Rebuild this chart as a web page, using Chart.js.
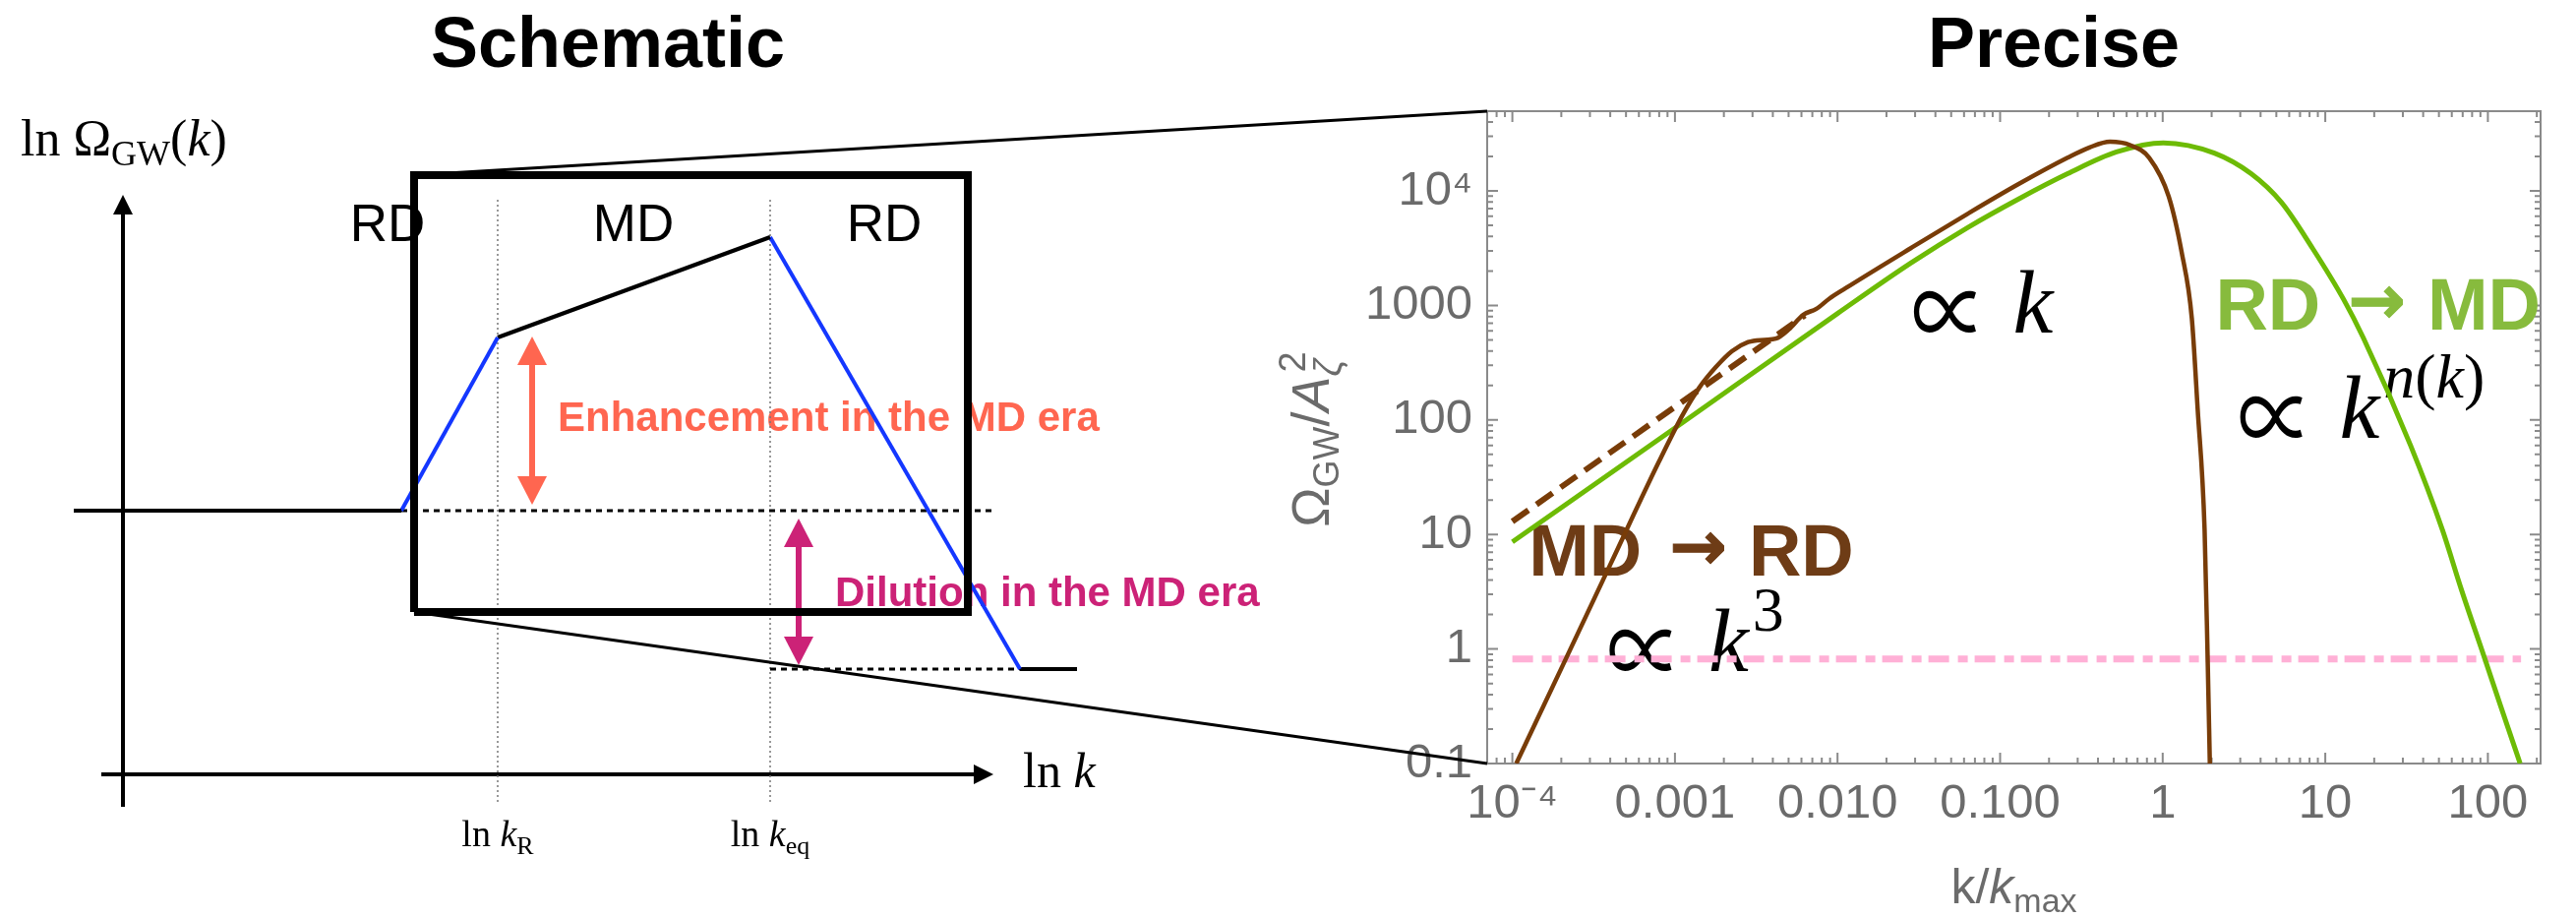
<!DOCTYPE html>
<html>
<head>
<meta charset="utf-8">
<script src="https://cdn.jsdelivr.net/npm/chart.js@4.4.0/dist/chart.umd.min.js"></script>
<style>
  body { margin: 0; background: #fff; width: 2619px; height: 933px; position: relative; overflow: hidden; }
  canvas { position: absolute; top: 0; }
  #left { left: 0; }
  #right { left: 1250px; }
  #links { left: 0; pointer-events: none; }
</style>
</head>
<body>
<canvas id="left" width="1300" height="933"></canvas>
<canvas id="right" width="1369" height="933"></canvas>
<canvas id="links" width="2619" height="933"></canvas>
<script>
// ---- schematic (arbitrary units: ln k to the right, ln Omega up) ----
const schemK  = [-0.5, 2.83, 3.81, 6.58, 9.12, 9.70];
const schemOm = [2.68, 2.68, 4.44, 5.46, 1.07, 1.07];
const lnkR = 3.81, lnkEq = 6.58;
const boxK  = [2.96, 8.59];
const boxOm = [1.65, 6.09];

// ---- precise spectrum ----
const kGreen  = [1e-4, 0.001, 0.01, 0.0282, 0.0631, 0.130, 0.260, 0.520, 1.01, 2.08, 3.50, 5.37, 8.34, 13.0, 17.1, 33.4, 52.5, 68.7, 95.5, 120, 158];
const omGreen = [8.61, 85.1, 851, 2344, 4786, 8511, 14130, 21880, 26300, 21380, 14130, 7943, 3162, 1122, 525, 60.3, 11.0, 3.31, 0.832, 0.316, 0.1];

const kBrown  = [1.057e-4, 2.0e-4, 3.98e-4, 7.94e-4, 1.12e-3, 1.41e-3, 1.78e-3, 2.24e-3, 2.82e-3, 3.55e-3, 4.17e-3, 5.01e-3, 6.17e-3, 7.41e-3, 8.91e-3, 0.0112, 0.0282, 0.0631, 0.130, 0.260, 0.355, 0.474, 0.631, 0.826, 1.09, 1.31, 1.51, 1.64, 1.81, 1.89, 1.95];
const omBrown = [0.1, 0.676, 5.37, 42.7, 112, 191, 288, 398, 479, 501, 513, 617, 832, 933, 1148, 1413, 3162, 6310, 11480, 19500, 23990, 26920, 25120, 19500, 8913, 2884, 776, 126, 11.0, 0.832, 0.1];

const kBrownDash  = [1e-4, 6.3e-3];
const omBrownDash = [13.0, 820];

const kFloor  = [1e-4, 160];
const omFloor = [0.82, 0.82];

const xTickVals = [1e-4, 1e-3, 1e-2, 1e-1, 1, 10, 100];
const xTickText = ['10\u207B\u2074', '0.001', '0.010', '0.100', '1', '10', '100'];
const yTickVals = [0.1, 1, 10, 100, 1000, 1e4];
const yTickText = ['0.1', '1', '10', '100', '1000', '10\u2074'];

const SANS = '"Liberation Sans", Arial, sans-serif';
const SERIF = '"Liberation Serif", "DejaVu Serif", serif';

function pts(xs, ys) { return xs.map((x, i) => ({x: x, y: ys[i]})); }

// draw pieces of text one after another on one baseline
function runs(ctx, x, y, list) {
  for (const r of list) {
    ctx.font = r.font;
    const dx = r.dx || 0;
    ctx.fillText(r.t, x + dx, y + (r.dy || 0));
    if (r.stroke) { ctx.lineWidth = r.stroke; ctx.strokeStyle = ctx.fillStyle; ctx.strokeText(r.t, x + dx, y + (r.dy || 0)); }
    if (!r.stay) x += dx + ctx.measureText(r.t).width;
  }
  return x;
}
function runsWidth(ctx, list) {
  let w = 0;
  for (const r of list) { ctx.font = r.font; if (!r.stay) w += (r.dx || 0) + ctx.measureText(r.t).width; }
  return w;
}
function head(ctx, x, y, dir, len, half) {
  ctx.beginPath();
  if (dir === 'up')    { ctx.moveTo(x, y); ctx.lineTo(x - half, y + len); ctx.lineTo(x + half, y + len); }
  if (dir === 'down')  { ctx.moveTo(x, y); ctx.lineTo(x - half, y - len); ctx.lineTo(x + half, y - len); }
  if (dir === 'right') { ctx.moveTo(x, y); ctx.lineTo(x - len, y - half); ctx.lineTo(x - len, y + half); }
  ctx.closePath();
  ctx.fill();
}
function seg(data, color, width, dash) {
  return { data: data, borderColor: color, borderWidth: width, borderDash: dash || [],
           pointRadius: 0, tension: 0, borderCapStyle: 'butt', borderJoinStyle: 'miter', clip: false };
}
// proportional-to sign fitted into a w x h box whose bottom-left is (x, y)
function propSign(ctx, x, y, w, h) {
  ctx.save();
  ctx.font = '100px "Noto Sans CJK JP", "DejaVu Serif", serif';
  const m = ctx.measureText('\u221D');
  const gw = m.actualBoundingBoxLeft + m.actualBoundingBoxRight;
  const gh = m.actualBoundingBoxAscent + m.actualBoundingBoxDescent;
  ctx.translate(x, y);
  ctx.scale(w / gw, h / gh);
  ctx.fillText('\u221D', m.actualBoundingBoxLeft, -m.actualBoundingBoxDescent);
  ctx.restore();
}

//Schematic decorations
const schemDeco = {
  id: 'schemDeco',
  beforeDatasetsDraw(chart) {
    const {ctx, scales: {x, y}} = chart;
    const X = v => x.getPixelForValue(v), Y = v => y.getPixelForValue(v);
    ctx.save();
    ctx.fillStyle = '#000';
    ctx.textBaseline = 'alphabetic';
    ctx.textAlign = 'center';
    ctx.font = 'bold 72px ' + SANS;
    ctx.fillText('Schematic', 618, 68);

    ctx.font = '53px ' + SANS;
    const eras = ['RD', 'MD', 'RD'], eraK = [2.69, 5.19, 7.74];
    eras.forEach((t, i) => ctx.fillText(t, X(eraK[i]), Y(5.42)));

    ctx.textAlign = 'left';
    // tick labels under the k axis
    [[lnkR, 'R'], [lnkEq, 'eq']].forEach(([v, sub]) => {
      const list = [{t: 'ln ', font: '38px ' + SERIF}, {t: 'k', font: 'italic 38px ' + SERIF},
                    {t: sub, font: '26px ' + SERIF, dy: 8}];
      runs(ctx, X(v) - runsWidth(ctx, list) / 2, Y(-0.73), list);
    });
    runs(ctx, X(9.15), Y(-0.13), [{t: 'ln ', font: '50px ' + SERIF}, {t: 'k', font: 'italic 50px ' + SERIF}]);
    runs(ctx, X(-1.04), Y(6.29), [{t: 'ln \u03A9', font: '52px ' + SERIF}, {t: 'GW', font: '36px ' + SERIF, dy: 10},
                                 {t: '(', font: '52px ' + SERIF}, {t: 'k', font: 'italic 52px ' + SERIF},
                                 {t: ')', font: '52px ' + SERIF}]);

    // enhancement / dilution
    ctx.font = 'bold 42px ' + SANS;
    ctx.fillStyle = '#ff6650';
    ctx.fillText('Enhancement in the MD era', X(4.42), Y(3.49));
    ctx.fillStyle = '#cc2277';
    ctx.fillText('Dilution in the MD era', X(7.24), Y(1.71));

    const arrows = [[4.16, schemOm[0] + 0.06, schemOm[2] + 0.01, '#ff6650'],
                    [6.87, schemOm[4] + 0.04, schemOm[0] - 0.08, '#cc2277']];
    arrows.forEach(([k, lo, hi, col]) => {
      ctx.strokeStyle = col; ctx.fillStyle = col; ctx.lineWidth = 6;
      ctx.beginPath(); ctx.moveTo(X(k), Y(lo) - 20); ctx.lineTo(X(k), Y(hi) + 20); ctx.stroke();
      head(ctx, X(k), Y(hi), 'up', 29, 15);
      head(ctx, X(k), Y(lo), 'down', 29, 15);
    });
    ctx.restore();
  },
  afterDatasetsDraw(chart) {
    const {ctx, scales: {x, y}} = chart;
    ctx.save();
    ctx.fillStyle = '#000';
    head(ctx, x.getPixelForValue(0), y.getPixelForValue(5.89), 'up', 20, 10);
    head(ctx, x.getPixelForValue(8.85), y.getPixelForValue(0), 'right', 20, 10);
    ctx.restore();
  }
};

const schemSegs = [];
const segColors = ['#000', '#1437ff', '#000', '#1437ff', '#000'];
for (let i = 0; i < schemK.length - 1; i++) {
  schemSegs.push(seg(pts([schemK[i], schemK[i + 1]], [schemOm[i], schemOm[i + 1]]), segColors[i], 4));
}

const left = new Chart(document.getElementById('left'), {
  type: 'line',
  data: {
    datasets: [
      seg(pts([boxK[0], boxK[0], boxK[1], boxK[1], boxK[0]], [boxOm[0], boxOm[1], boxOm[1], boxOm[0], boxOm[0]]), '#000', 8),
      ...schemSegs,
      seg(pts([schemK[1], 8.83], [schemOm[1], schemOm[1]]), '#000', 3, [6, 5]),
      seg(pts([lnkEq, schemK[4]], [schemOm[4], schemOm[4]]), '#000', 3, [6, 5]),
      seg(pts([lnkR, lnkR], [-0.28, 5.85]), '#777', 1.5, [2, 3]),
      seg(pts([lnkEq, lnkEq], [-0.28, 5.85]), '#777', 1.5, [2, 3]),
      seg(pts([-0.22, 8.75], [0, 0]), '#000', 4),
      seg(pts([0, 0], [-0.33, 5.8]), '#000', 4)
    ]
  },
  options: {
    responsive: false, animation: false, events: [],
    layout: { padding: 0 },
    plugins: { legend: { display: false }, tooltip: { enabled: false } },
    scales: {
      x: { type: 'linear', display: false, min: -1.25, max: 11.75 },
      y: { type: 'linear', display: false, min: -1.46, max: 7.87 }
    }
  },
  plugins: [schemDeco]
});

// frame, ticks on all sides, titles and annotations of the precise panel
const precDeco = {
  id: 'precDeco',
  beforeDatasetsDraw(chart) {
    const {ctx, chartArea: a, scales: {x, y}} = chart;
    const X = v => x.getPixelForValue(v), Y = v => y.getPixelForValue(v);
    ctx.save();
    ctx.strokeStyle = '#8a8a8a';
    ctx.lineWidth = 2;
    ctx.strokeRect(a.left, a.top, a.right - a.left, a.bottom - a.top);
    ctx.beginPath();
    for (let e = -5; e <= 4; e++) {
      for (let m = 1; m < 10; m++) {
        const v = m * Math.pow(10, e), len = m === 1 ? 11 : 6;
        if (v >= x.min && v <= x.max) {
          const p = X(v);
          ctx.moveTo(p, a.bottom); ctx.lineTo(p, a.bottom - len);
          ctx.moveTo(p, a.top); ctx.lineTo(p, a.top + len);
        }
        if (v >= y.min && v <= y.max) {
          const p = Y(v);
          ctx.moveTo(a.left, p); ctx.lineTo(a.left + len, p);
          ctx.moveTo(a.right, p); ctx.lineTo(a.right - len, p);
        }
      }
    }
    ctx.stroke();

    ctx.textBaseline = 'alphabetic';
    ctx.textAlign = 'center';
    ctx.fillStyle = '#000';
    ctx.font = 'bold 72px ' + SANS;
    ctx.fillText('Precise', 838, 68);

    ctx.textAlign = 'left';
    ctx.fillStyle = '#6b6b6b';
    const xt = [{t: 'k/', font: '50px ' + SANS}, {t: 'k', font: 'italic 50px ' + SANS},
                {t: 'max', font: '34px ' + SANS, dy: 9}];
    runs(ctx, (a.left + a.right) / 2 - runsWidth(ctx, xt) / 2, a.bottom + 142, xt);

    const yt = [{t: '\u03A9', font: '54px ' + SANS}, {t: 'GW', font: '36px ' + SANS, dy: 10},
                {t: '/', font: '54px ' + SANS}, {t: 'A', font: 'italic 54px ' + SANS},
                {t: '\u03B6', font: 'italic 38px ' + SANS, dy: 12, stay: true},
                {t: '2', font: '38px ' + SANS, dy: -24, dx: 4}];
    ctx.translate(a.left - 161, (a.top + a.bottom) / 2 + 2);
    ctx.rotate(-Math.PI / 2);
    runs(ctx, -runsWidth(ctx, yt) / 2, 0, yt);
    ctx.setTransform(1, 0, 0, 1, 0, 0);

    const arrowRun = {t: '\u2192', font: 'bold 70px "DejaVu Sans", sans-serif', dy: -6, stroke: 1};
    ctx.fillStyle = '#6e3c16';
    runs(ctx, X(1.26e-4), Y(4.35), [{t: 'MD', font: 'bold 74px ' + SANS}, {...arrowRun, dx: 28},
                                    {t: 'RD', font: 'bold 74px ' + SANS, dx: 22}]);
    ctx.fillStyle = '#87bb3d';
    runs(ctx, X(2.11), Y(614), [{t: 'RD', font: 'bold 74px ' + SANS}, {...arrowRun, dx: 28},
                                {t: 'MD', font: 'bold 74px ' + SANS, dx: 22}]);

    ctx.fillStyle = '#000';
    const prop = (k, om, sup) => {
      const px = X(k), py = Y(om);
      propSign(ctx, px, py, 64, 43);
      ctx.font = 'italic 92px ' + SERIF;
      ctx.fillText('k', px + 101, py);
      if (sup) runs(ctx, px + 101 + ctx.measureText('k').width + 4, py - 41, sup);
    };
    prop(3.94e-4, 0.637, [{t: '3', font: '64px ' + SERIF}]);
    prop(0.0294, 578);
    prop(2.99, 69.5, [{t: 'n', font: 'italic 64px ' + SERIF}, {t: '(', font: '64px ' + SERIF},
                      {t: 'k', font: 'italic 64px ' + SERIF}, {t: ')', font: '64px ' + SERIF}]);
    ctx.restore();
  }
};

const right = new Chart(document.getElementById('right'), {
  type: 'line',
  data: {
    datasets: [
      { data: pts(kBrown, omBrown), borderColor: '#783c08', borderWidth: 4.5, cubicInterpolationMode: 'monotone' },
      { data: pts(kGreen, omGreen), borderColor: '#6dbb05', borderWidth: 5, cubicInterpolationMode: 'monotone' },
      { data: pts(kBrownDash, omBrownDash), borderColor: '#783c08', borderWidth: 6, borderDash: [20, 10] },
      { data: pts(kFloor, omFloor), borderColor: '#ffb0d6', borderWidth: 7, borderDash: [21, 9, 10, 7] }
    ]
  },
  options: {
    responsive: false, animation: false, events: [],
    layout: { padding: { left: 0, right: 36, top: 113, bottom: 0 } },
    elements: { point: { radius: 0 } },
    plugins: { legend: { display: false }, tooltip: { enabled: false } },
    scales: {
      x: {
        type: 'logarithmic', min: 7.46e-5, max: 211,
        grid: { display: false, drawTicks: false }, border: { display: false },
        afterBuildTicks: s => { s.ticks = xTickVals.map(v => ({value: v})); },
        afterFit: s => { s.height = 157; },
        ticks: { autoSkip: false, maxRotation: 0, padding: 12, color: '#6b6b6b',
                 font: { family: SANS, size: 49 }, callback: (v, i) => xTickText[i] }
      },
      y: {
        type: 'logarithmic', min: 0.1, max: 4.97e4,
        grid: { display: false, drawTicks: false }, border: { display: false },
        afterBuildTicks: s => { s.ticks = yTickVals.map(v => ({value: v})); },
        afterFit: s => { s.width = 262; },
        ticks: { autoSkip: false, padding: 15, color: '#6b6b6b',
                 font: { family: SANS, size: 49 }, callback: (v, i) => yTickText[i] }
      }
    }
  },
  plugins: [precDeco]
});

// zoom lines from the schematic box to the precise frame
(function drawLinks() {
  const ctx = document.getElementById('links').getContext('2d');
  const lx = left.scales.x, ly = left.scales.y, a = right.chartArea, off = 1250;
  const bx = lx.getPixelForValue(boxK[0]);
  ctx.strokeStyle = '#000';
  ctx.lineWidth = 3;
  ctx.beginPath();
  ctx.moveTo(bx, ly.getPixelForValue(boxOm[1]));
  ctx.lineTo(off + a.left, a.top);
  ctx.moveTo(bx, ly.getPixelForValue(boxOm[0]));
  ctx.lineTo(off + a.left, a.bottom);
  ctx.stroke();
})();
</script>
</body>
</html>
